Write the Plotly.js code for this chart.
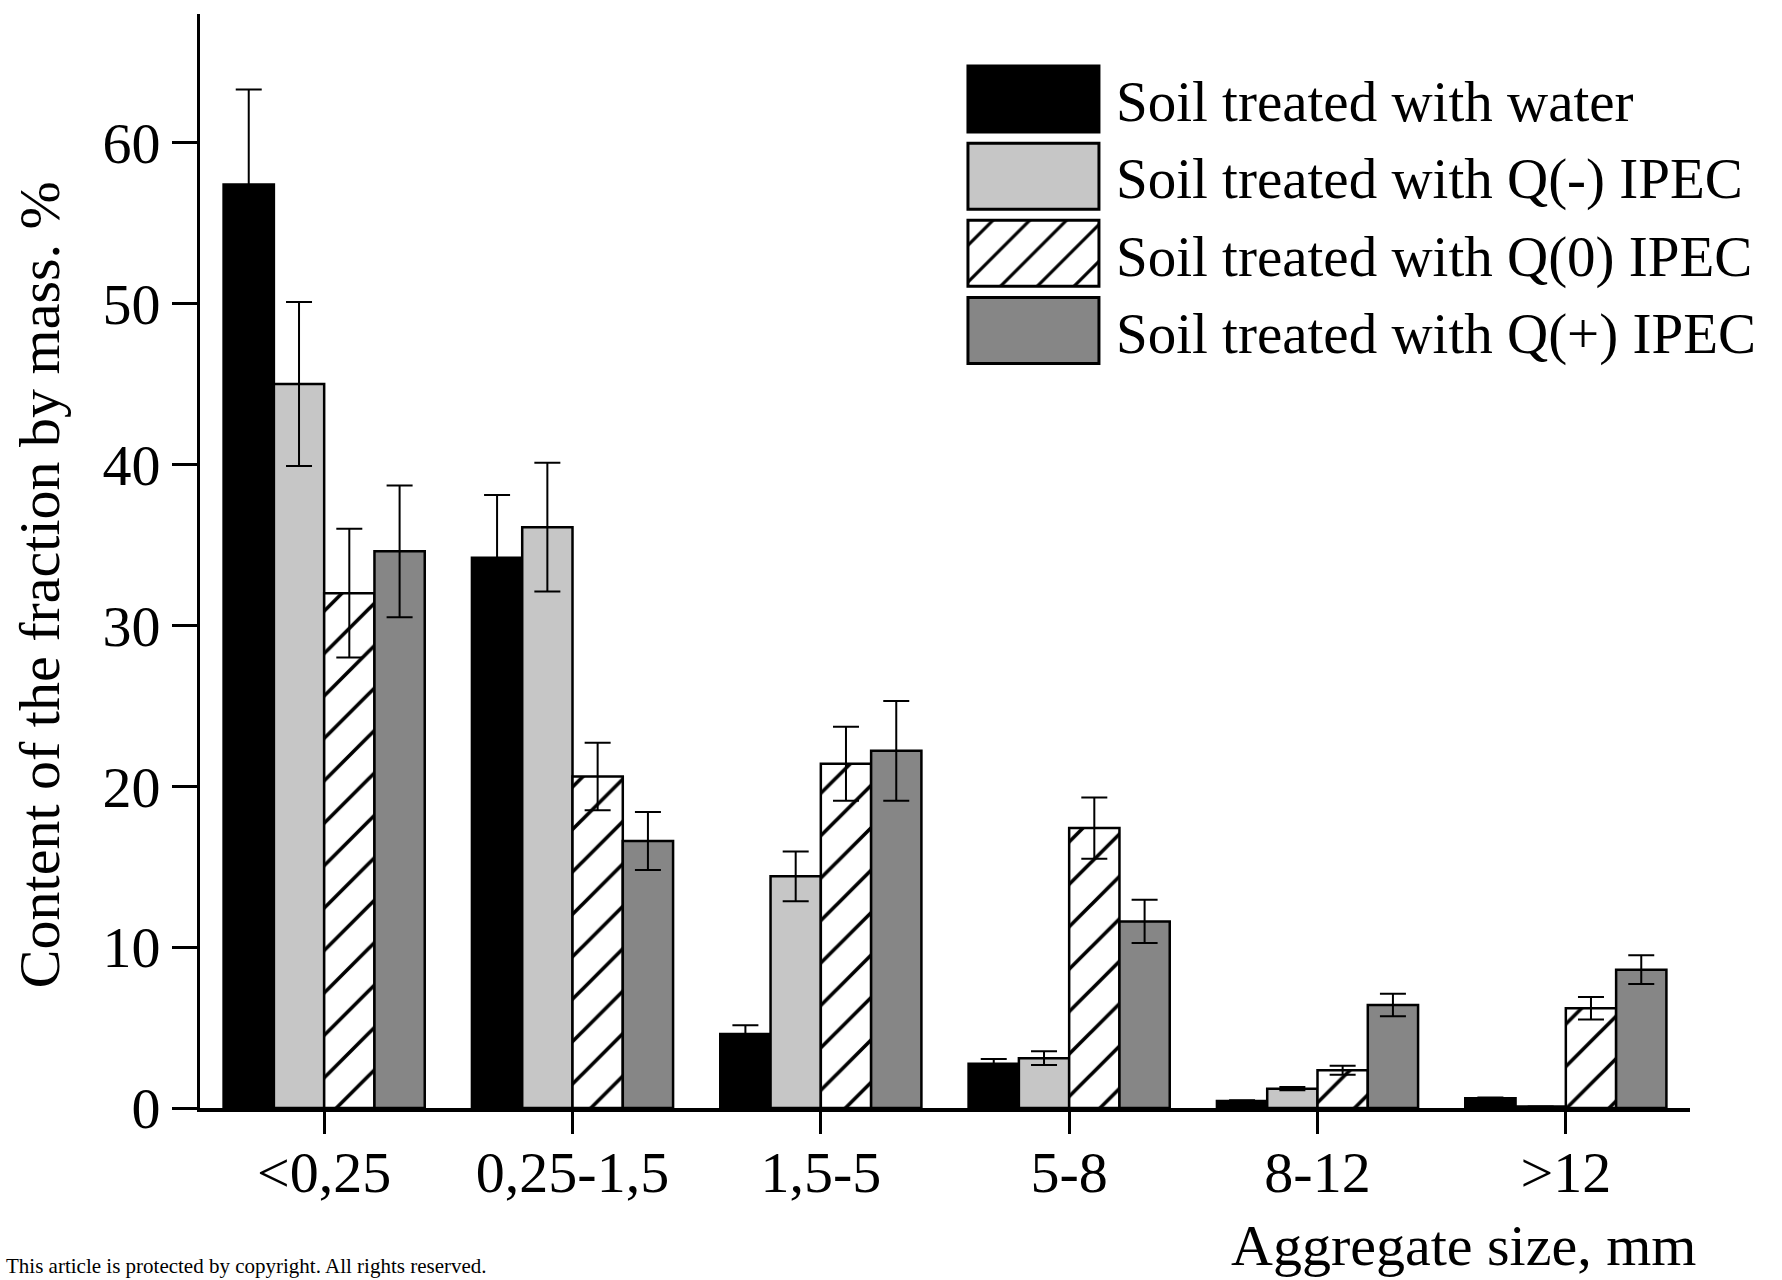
<!DOCTYPE html>
<html>
<head>
<meta charset="utf-8">
<script src="https://cdn.plot.ly/plotly-3.0.1.min.js"></script>
<style>
  html, body { margin: 0; padding: 0; background: #ffffff; }
  #chart { width: 1782px; height: 1280px; }
</style>
</head>
<body>
<div id="chart"></div>
<script>
// ---- data ----
const categories = ['<0,25', '0,25-1,5', '1,5-5', '5-8', '8-12', '>12'];
const seriesNames = [
  'Soil treated with water',
  'Soil treated with Q(-) IPEC',
  'Soil treated with Q(0) IPEC',
  'Soil treated with Q(+) IPEC'
];
const water     = [57.4, 34.2, 4.6, 2.75, 0.43, 0.6];
const waterErr  = [5.9, 3.9, 0.55, 0.3, 0.05, 0.05];
const qMinus    = [45.0, 36.1, 14.4, 3.1, 1.2, 0.1];
const qMinusErr = [5.1, 4.0, 1.55, 0.42, 0.1, 0];
const qZero     = [32.0, 20.6, 21.4, 17.4, 2.35, 6.2];
const qZeroErr  = [4.0, 2.1, 2.3, 1.9, 0.28, 0.7];
const qPlus     = [34.6, 16.6, 22.2, 11.6, 6.4, 8.6];
const qPlusErr  = [4.1, 1.8, 3.1, 1.35, 0.7, 0.9];
const yTickVals = [0, 10, 20, 30, 40, 50, 60];
const yTickText = ['0', '10', '20', '30', '40', '50', '60'];

// ---- styles ----
const FONT = 'Liberation Serif, Times New Roman, serif';
const outline = { color: '#000000', width: 2.5 };
const errStyle = (arr) => ({ type: 'data', array: arr, visible: true, color: '#000000', thickness: 2, width: 13 });

const traces = [
  { type: 'bar', name: seriesNames[0], x: categories, y: water, error_y: errStyle(waterErr),
    marker: { color: '#000000', line: outline } },
  { type: 'bar', name: seriesNames[1], x: categories, y: qMinus, error_y: errStyle(qMinusErr),
    marker: { color: '#c6c6c6', line: outline } },
  { type: 'bar', name: seriesNames[2], x: categories, y: qZero, error_y: errStyle(qZeroErr),
    marker: { color: '#ffffff', line: outline,
      pattern: { shape: '/', fgcolor: '#000000', bgcolor: '#ffffff', size: 30, solidity: 0.12, fillmode: 'replace' } } },
  { type: 'bar', name: seriesNames[3], x: categories, y: qPlus, error_y: errStyle(qPlusErr),
    marker: { color: '#868686', line: outline } }
];

const layout = {
  width: 1782, height: 1280,
  paper_bgcolor: '#ffffff', plot_bgcolor: '#ffffff',
  margin: { l: 200, r: 92, t: 14, b: 172, autoexpand: false },
  font: { family: FONT, color: '#000000', size: 58 },
  barmode: 'group', bargap: 0.19, bargroupgap: 0,
  showlegend: true,
  legend: {
    x: 0.504, y: 0.962, xanchor: 'left', yanchor: 'top',
    bgcolor: 'rgba(0,0,0,0)', borderwidth: 0,
    font: { family: FONT, size: 57, color: '#000000' },
    itemwidth: 155, tracegroupgap: 0, traceorder: 'normal'
  },
  xaxis: {
    type: 'category', range: [-0.5, 5.5],
    showline: true, linecolor: '#000000', linewidth: 4,
    ticks: 'outside', ticklen: 22, tickwidth: 3, tickcolor: '#000000',
    showgrid: false, zeroline: false,
    tickfont: { family: FONT, size: 58, color: '#000000' },
    ticklabelstandoff: -12
  },
  yaxis: {
    range: [0, 68],
    tickvals: yTickVals, ticktext: yTickText,
    showline: true, linecolor: '#000000', linewidth: 3,
    ticks: 'outside', ticklen: 25, tickwidth: 3, tickcolor: '#000000',
    showgrid: false, zeroline: false,
    tickfont: { family: FONT, size: 58, color: '#000000' },
    ticklabelstandoff: 0
  },
  annotations: [
    { text: 'Content of the fraction by mass. %', textangle: -90,
      xref: 'paper', yref: 'paper', x: -0.108, y: 0.478,
      xanchor: 'center', yanchor: 'middle', showarrow: false,
      font: { family: FONT, size: 58, color: '#000000' } },
    { text: 'Aggregate size, mm',
      xref: 'paper', yref: 'paper', x: 1.0054, y: -0.126,
      xanchor: 'right', yanchor: 'middle', showarrow: false,
      font: { family: FONT, size: 58, color: '#000000' } },
    { text: 'This article is protected by copyright. All rights reserved.',
      xref: 'paper', yref: 'paper', x: -0.1315, y: -0.1572,
      xanchor: 'left', yanchor: 'bottom', showarrow: false,
      font: { family: FONT, size: 21, color: '#000000' } }
  ]
};

Plotly.newPlot('chart', traces, layout, { displayModeBar: false, staticPlot: true }).then(function () {
  // enlarge legend swatches to match the reference's large boxes
  document.querySelectorAll('.legend .legendpoints path').forEach(function (p) {
    p.setAttribute('d', 'M65.5,33H-65.5V-33H65.5Z');
    p.style.strokeWidth = '3px';
    p.style.stroke = '#000000';
    var fill = p.style.fill || '';
    var m = fill.match(/url\(["']?#([^"')]+)["']?\)/);
    if (m) {
      var pat = document.getElementById(m[1]);
      if (pat) pat.setAttribute('patternTransform', 'scale(2.6)');
    }
  });
});
</script>
</body>
</html>
